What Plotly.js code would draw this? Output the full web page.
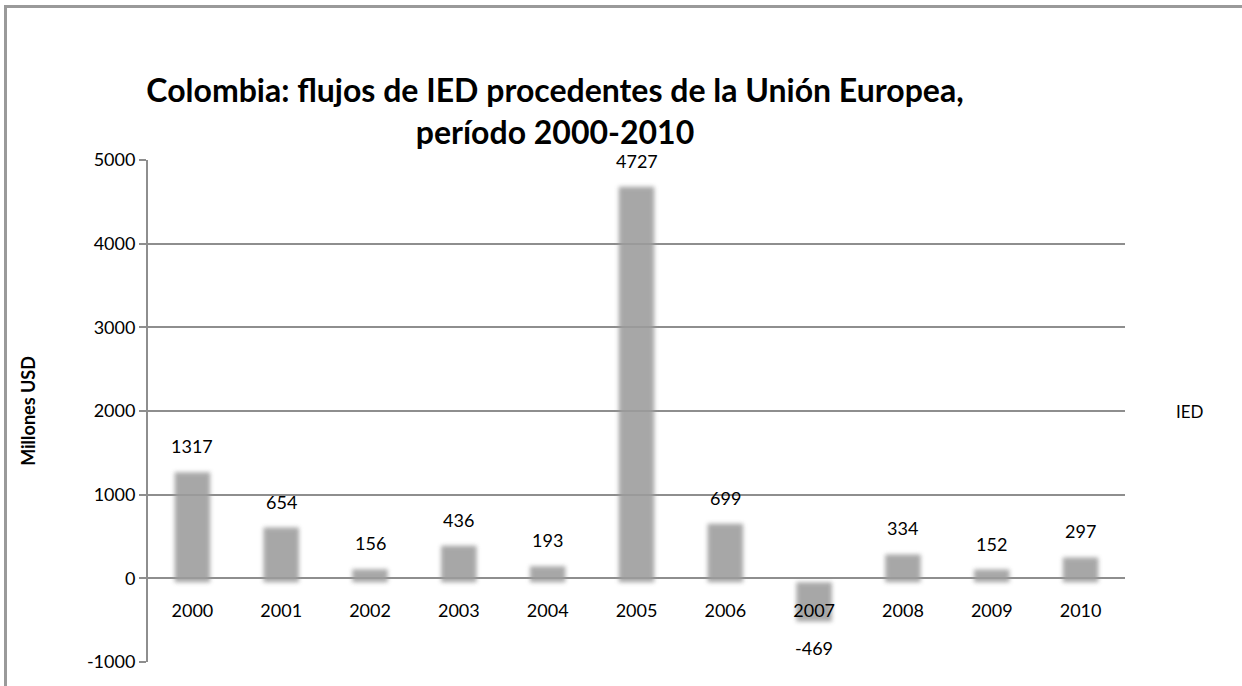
<!DOCTYPE html>
<html>
<head>
<meta charset="utf-8">
<script src="https://cdn.plot.ly/plotly-3.0.1.min.js"></script>
<style>
  html, body { margin: 0; padding: 0; background: #fff; }
  #wrap { position: relative; width: 1242px; height: 686px; overflow: hidden; }
  #chart { width: 1242px; height: 686px; }
  #frame { position: absolute; left: 4px; top: 5px; width: 1250px; height: 700px;
           border-top: 3px solid #9a9a9a; border-left: 3px solid #9a9a9a; pointer-events: none; }
  .bars .point path { filter: blur(2px); transform: translateY(4px); }
</style>
</head>
<body>
<div id="wrap">
  <div id="chart"></div>
  <div id="frame"></div>
</div>
<script>
const years = ['2000','2001','2002','2003','2004','2005','2006','2007','2008','2009','2010'];
const ied = [1317, 654, 156, 436, 193, 4727, 699, -469, 334, 152, 297];
const yTicks = [-1000, 0, 1000, 2000, 3000, 4000, 5000];
const seriesName = 'IED';
const titleLine1 = 'Colombia: flujos de IED procedentes de la Unión Europea,';
const titleLine2 = 'período 2000-2010';
const yTitle = 'Millones USD';

const FONT = 'Lato, "Open Sans", sans-serif';

// category axes take the category index for annotations
const labelAnns = years.map((yr, i) => ({
  x: i, y: ied[i], xref: 'x', yref: 'y',
  text: String(ied[i]), showarrow: false,
  yanchor: 'middle', yshift: ied[i] >= 0 ? 22 : -30,
  font: {family: FONT, size: 18, color: '#000'}
}));

const trace = {
  type: 'bar', x: years, y: ied, name: seriesName,
  marker: {color: '#9c9c9c', opacity: 0.88, line: {width: 0}},
  hoverinfo: 'x+y', showlegend: false
};

const layout = {
  width: 1242, height: 686,
  margin: {l: 148, r: 117, t: 160, b: 24},
  paper_bgcolor: '#fff', plot_bgcolor: '#fff',
  font: {family: FONT, size: 18, color: '#000'},
  title: {
    text: titleLine1 + '<br>' + titleLine2,
    x: 555/1242, xanchor: 'center', xref: 'container',
    y: 1 - 102/686, yanchor: 'top', yref: 'container',
    font: {family: FONT, size: 32, color: '#000', weight: 'bold'}
  },
  bargap: 0.6,
  xaxis: {
    type: 'category', categoryorder: 'array', categoryarray: years,
    range: [-0.5, years.length - 0.5],
    anchor: 'free', position: 1/6,
    showgrid: false, showline: false, zeroline: false,
    ticks: 'outside', ticklen: 16, tickcolor: 'rgba(0,0,0,0)',
    tickfont: {family: FONT, size: 18, color: '#000'}
  },
  yaxis: {
    range: [-1000, 5000], tickvals: yTicks, ticktext: yTicks.map(String),
    showline: true, linecolor: '#8e8e8e', linewidth: 2,
    ticks: 'outside', ticklen: 7, tickcolor: '#8e8e8e', tickwidth: 2,
    showgrid: true, gridcolor: '#8e8e8e', gridwidth: 2,
    zeroline: true, zerolinecolor: '#8e8e8e', zerolinewidth: 2,
    tickfont: {family: FONT, size: 18, color: '#000'},
    title: {text: yTitle, standoff: 47, font: {family: FONT, size: 18, color: '#000', weight: 'bold'}},
    automargin: false
  },
  annotations: labelAnns.concat([{
    xref: 'paper', yref: 'paper', x: (1190-148)/977, y: (662-411)/502,
    text: seriesName, showarrow: false, xanchor: 'center', yanchor: 'middle',
    font: {family: FONT, size: 17, color: '#000'}
  }]),
  showlegend: false
};

Plotly.newPlot('chart', [trace], layout, {displayModeBar: false, staticPlot: true});
</script>
</body>
</html>
